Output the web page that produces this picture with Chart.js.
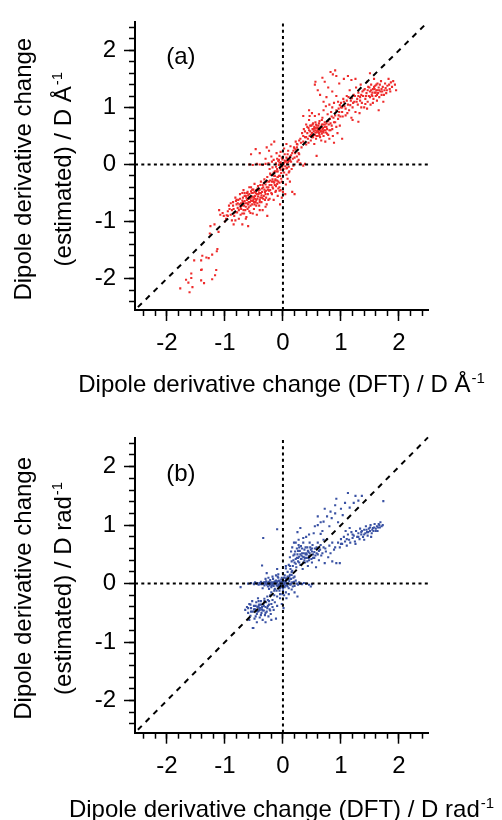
<!DOCTYPE html>
<html>
<head>
<meta charset="utf-8">
<script src="https://cdn.jsdelivr.net/npm/chart.js@4/dist/chart.umd.min.js"></script>
<style>
html,body{margin:0;padding:0;background:#fff;}
canvas{position:absolute;left:0;display:block;}
</style>
</head>
<body>
<canvas id="ca" width="502" height="410" style="top:0"></canvas>
<canvas id="cb" width="502" height="410" style="top:410px"></canvas>
<script>
// ---------- axis values ----------
const X_RANGE = [-2.55, 2.5];
const Y_RANGE = [-2.55, 2.49];
const majorTicks = [-2, -1, 0, 1, 2];
const minorTicks = [-2.4,-2.2,-2.0,-1.8,-1.6,-1.4,-1.2,-1.0,-0.8,-0.6,-0.4,-0.2,0,0.2,0.4,0.6,0.8,1.0,1.2,1.4,1.6,1.8,2.0,2.2,2.4];
const diagonal = [-2.5, 2.5];
const zeroSpanX = [-2.55, 2.5];
const zeroSpanY = [-2.55, 2.49];

// ---------- panel (a): points [DFT, estimated] ----------
const aLowTail = [[-1.25,-1.08],[-1.18,-1.05],[-1.13,-1.48],[-1.14,-1.52],[-1.22,-1.58],[-1.39,-1.6],[-1.32,-1.63],[-1.53,-1.68],[-1.41,-1.68],[-1.15,-1.85],[-1.22,-2.01],[-1.17,-1.94],[-1.41,-1.85],[-1.58,-1.91],[-1.41,-2.03],[-1.36,-2.08],[-1.67,-2.02],[-1.63,-2.07],[-1.58,-1.99],[-1.56,-2.15],[-1.77,-2.17],[-1.61,-2.24],[-1.4,-1.84],[-1.28,-1.64],[-1.11,-1.18],[-1.26,-1.21]];
const aLowCluster = [[-1.08,-0.88],[-1.02,-0.9],[-0.98,-0.95],[-0.95,-0.82],[-0.93,-0.72],[-0.9,-0.88],[-0.88,-0.98],[-0.86,-0.66],[-0.85,-0.78],[-0.84,-0.9],[-0.82,-0.58],[-0.8,-0.7],[-0.79,-0.84],[-0.77,-0.62],[-0.76,-0.95],[-0.74,-0.52],[-0.73,-0.76],[-0.72,-0.68],[-0.7,-0.86],[-0.69,-0.58],[-0.68,-0.45],[-0.67,-0.72],[-0.66,-0.64],[-0.65,-0.8],[-0.64,-0.55],[-0.63,-0.92],[-0.62,-0.68],[-0.61,-0.48],[-0.6,-0.6],[-0.59,-0.75],[-0.58,-0.52],[-0.57,-0.66],[-0.56,-0.85],[-0.55,-0.4],[-0.54,-0.58],[-0.53,-0.7],[-0.52,-0.5],[-0.51,-0.62],[-0.5,-0.78],[-0.49,-0.34],[-0.48,-0.55],[-0.47,-0.66],[-0.46,-0.45],[-0.45,-0.88],[-0.44,-0.6],[-0.43,-0.38],[-0.42,-0.52],[-0.41,-0.72],[-0.4,-0.44],[-0.39,-0.58],[-0.38,-0.3],[-0.37,-0.66],[-0.36,-0.48],[-0.35,-0.8],[-0.34,-0.4],[-0.33,-0.55],[-0.32,-0.26],[-0.31,-0.62],[-0.3,-0.35],[-0.29,-0.46],[-0.28,-0.7],[-0.27,-0.22],[-0.26,-0.52],[-0.25,-0.4],[-0.24,-0.3],[-0.23,-0.6],[-0.22,-0.45],[-0.21,-0.18],[-0.2,-0.36],[-0.19,-0.52],[-0.18,-0.26],[-0.17,-0.42],[-0.16,-0.62],[-0.15,-0.32],[-0.14,-0.2],[-0.13,-0.48],[-0.12,-0.38],[-0.11,-0.12],[-0.1,-0.28],[-0.09,-0.55],[-0.08,-0.42],[-0.07,-0.2],[-0.06,-0.32],[-0.05,-0.7],[-0.04,-0.45],[-0.03,-0.25],[-0.02,-0.58],[-0.62,-0.62],[-0.58,-0.57],[-0.55,-0.63],[-0.52,-0.56],[-0.48,-0.6],[-0.45,-0.52],[-0.66,-0.55],[-0.7,-0.63],[-0.6,-0.7],[-0.5,-0.66],[-0.42,-0.46],[-0.38,-0.5],[-0.35,-0.36],[-0.32,-0.44],[-0.28,-0.4],[-0.55,-0.47],[-0.64,-0.74],[-0.72,-0.78],[-0.78,-0.76],[-0.46,-0.72],[-0.85,-1.05],[-0.7,-1.05],[-0.6,-1.08],[-0.27,-0.9],[-1.1,-0.8],[-1.0,-1.0],[-0.97,-0.89],[-0.58,-0.82],[-0.44,-0.68],[-0.36,-0.58],[-0.53,-0.44],[-0.62,-0.5],[-0.75,-0.7],[-0.81,-0.64],[-0.67,-0.86],[-0.49,-0.48],[-0.4,-0.62],[-0.3,-0.52],[-0.24,-0.46],[-0.19,-0.3],[-0.14,-0.36],[-0.09,-0.22],
  [-0.88,-0.8],[-0.86,-0.72],[-0.83,-0.84],[-0.8,-0.62],[-0.78,-0.68],[-0.76,-0.8],[-0.74,-0.6],[-0.73,-0.88],[-0.71,-0.72],[-0.69,-0.66],[-0.68,-0.8],[-0.66,-0.5],[-0.65,-0.68],[-0.63,-0.58],[-0.61,-0.78],[-0.6,-0.54],[-0.59,-0.66],[-0.57,-0.6],[-0.56,-0.72],[-0.54,-0.5],[-0.53,-0.64],[-0.51,-0.44],[-0.5,-0.58],[-0.49,-0.7],[-0.47,-0.5],[-0.46,-0.62],[-0.44,-0.42],[-0.43,-0.56],[-0.41,-0.5],[-0.4,-0.66],[-0.39,-0.36],[-0.37,-0.54],[-0.36,-0.42],[-0.34,-0.6],[-0.33,-0.32],[-0.31,-0.48],[-0.29,-0.58],[-0.28,-0.3],[-0.26,-0.44],[-0.25,-0.62],[-0.23,-0.36],[-0.22,-0.28],[-0.2,-0.5],[-0.18,-0.4],[-0.16,-0.3],[-0.13,-0.26],[-0.12,-0.46],[-0.1,-0.34],[-0.08,-0.3],[-0.06,-0.46],[-0.92,-0.78],[-0.95,-0.9],[-1.04,-0.85],[-0.9,-0.68],[-0.82,-0.98],[-0.64,-0.95],[-0.52,-0.86],[-0.4,-0.8],[-0.3,-0.74],[-0.58,-0.4],[-0.7,-0.5]];
const aCenter = [[0,0],[0.02,0.03],[-0.02,-0.02],[0.04,-0.03],[-0.04,0.04],[0.05,0.06],[-0.05,-0.06],[0.01,-0.08],[-0.01,0.09],[0.07,0.02],[-0.07,-0.01],[0.08,0.1],[-0.08,0.06],[0.1,-0.04],[-0.1,-0.08],[0.12,0.14],[-0.12,0.02],[0.03,0.18],[-0.03,-0.15],[0.14,0.05],[-0.14,-0.12],[0.06,-0.18],[-0.06,0.15],[0.16,0.2],[-0.16,0.08],[0.18,-0.02],[-0.18,-0.05],[0.09,0.24],[-0.09,-0.22],[0.2,0.12],[-0.2,0.14],[0.22,0.26],[-0.22,-0.16],[0.11,-0.12],[-0.11,0.2],[0.25,0.05],[-0.25,0.02],[0.02,0.28],[-0.02,-0.3],[0.13,0.32],[-0.13,-0.28],[0.28,0.18],[0.05,-0.35],[0.0,-0.48],[0.04,-0.52],[-0.06,-0.4],[0.16,-0.48],[0.2,-0.52],[0.12,-0.3],[0.3,0.02],[0.35,-0.02],[0.38,0.01],[-0.3,0.01],[-0.35,-0.01],[-0.4,0.0],[-0.45,0.01],[-0.52,-0.01],[-0.58,0.0],[-0.28,0.3],[-0.2,0.35],[-0.15,0.4],[0.06,0.36],[0.08,-0.25],[-0.04,0.22],[0.15,-0.08],[-0.15,-0.2],[0.24,0.36],[0.19,0.3],[0.27,0.08],[-0.24,0.24],[-0.47,0.27],[-0.55,0.18],[-0.4,0.2],[-0.3,0.1],[0.03,0.07],[-0.03,0.01],[0.06,-0.07],[-0.06,0.03],[0.1,0.06],[-0.1,0.1],
  [0.01,0.01],[-0.01,-0.04],[0.04,0.05],[-0.04,-0.09],[0.07,-0.06],[-0.07,0.08],[0.09,0.04],[-0.09,-0.12],[0.12,0.08],[-0.12,-0.04],[0.14,0.16],[-0.16,-0.14],[0.02,-0.14],[-0.02,0.12],[0.17,0.1],[0.21,0.2],[0.18,0.24],[0.06,0.12],[-0.05,-0.2],[0.1,-0.14],[0.24,0.14],[-0.19,0.05],[-0.23,-0.08],[0.08,0.18]];
const aMidCluster = [[0.2,0.28],[0.22,0.4],[0.25,0.35],[0.27,0.2],[0.3,0.45],[0.32,0.3],[0.33,0.55],[0.35,0.4],[0.36,0.62],[0.38,0.48],[0.4,0.35],[0.4,0.7],[0.42,0.55],[0.43,0.45],[0.44,0.64],[0.45,0.78],[0.46,0.5],[0.47,0.58],[0.48,0.42],[0.49,0.68],[0.5,0.55],[0.51,0.62],[0.52,0.48],[0.52,0.72],[0.53,0.58],[0.54,0.66],[0.55,0.52],[0.56,0.6],[0.57,0.7],[0.57,0.45],[0.58,0.56],[0.59,0.64],[0.6,0.5],[0.6,0.6],[0.61,0.68],[0.62,0.55],[0.63,0.62],[0.63,0.76],[0.64,0.48],[0.65,0.58],[0.66,0.66],[0.67,0.54],[0.68,0.62],[0.68,0.82],[0.69,0.7],[0.7,0.5],[0.71,0.6],[0.72,0.66],[0.73,0.4],[0.74,0.56],[0.75,0.72],[0.76,0.62],[0.77,0.88],[0.78,0.52],[0.79,0.7],[0.8,0.45],[0.81,0.8],[0.82,0.6],[0.83,0.92],[0.84,0.68],[0.86,0.5],[0.87,0.82],[0.88,0.38],[0.9,0.74],[0.92,0.95],[0.94,0.55],[0.96,0.86],[0.98,0.68],[1.0,1.0],[1.02,0.45],[0.58,0.15],[0.62,0.88],[0.55,0.85],[0.5,0.9],[0.46,0.85],[0.7,0.95],[0.74,1.02],[0.8,1.05],[0.85,1.0],[0.66,0.42],[0.54,0.36],[0.95,1.1],[0.88,1.08],[0.92,1.2],[0.6,0.64],[0.64,0.6],[0.56,0.56],[0.67,0.7],[0.53,0.62],[0.61,0.57],[0.58,0.68],[0.69,0.58],[0.48,0.52],[0.72,0.74],
  [0.45,0.6],[0.47,0.68],[0.5,0.48],[0.51,0.7],[0.53,0.52],[0.55,0.64],[0.56,0.74],[0.58,0.5],[0.59,0.58],[0.61,0.62],[0.62,0.72],[0.63,0.52],[0.65,0.66],[0.66,0.58],[0.67,0.78],[0.69,0.64],[0.7,0.56],[0.72,0.7],[0.73,0.6],[0.75,0.66],[0.76,0.54],[0.78,0.76],[0.8,0.6],[0.82,0.72],[0.84,0.84],[0.85,0.62],[0.88,0.74],[0.9,0.86],[0.92,0.66],[0.95,0.8],[0.97,0.92],[0.99,0.84],[0.38,0.58],[0.42,0.66],[0.35,0.5],[0.31,0.38],[0.28,0.42],[0.24,0.3],[0.4,0.48],[0.44,0.38]];
const aHighCluster = [[1.0,1.08],[1.02,0.92],[1.04,1.15],[1.06,1.02],[1.08,0.86],[1.1,1.2],[1.12,1.05],[1.14,0.95],[1.15,1.3],[1.17,1.12],[1.18,0.82],[1.2,1.0],[1.22,1.22],[1.23,1.1],[1.25,0.92],[1.26,1.35],[1.28,1.15],[1.29,1.05],[1.3,1.26],[1.32,0.9],[1.33,1.18],[1.34,1.4],[1.36,1.08],[1.37,1.28],[1.38,1.2],[1.4,1.0],[1.41,1.32],[1.42,1.15],[1.44,1.25],[1.45,1.45],[1.46,1.1],[1.47,1.36],[1.48,1.2],[1.5,1.28],[1.51,1.05],[1.52,1.4],[1.53,1.22],[1.55,1.32],[1.56,1.15],[1.57,1.5],[1.58,1.26],[1.59,1.38],[1.6,1.2],[1.61,1.3],[1.62,1.12],[1.63,1.42],[1.64,1.25],[1.65,1.35],[1.66,1.18],[1.68,1.28],[1.69,1.46],[1.7,1.22],[1.72,1.36],[1.73,1.1],[1.75,1.3],[1.76,1.42],[1.78,1.25],[1.8,1.38],[1.82,1.5],[1.84,1.32],[1.86,1.44],[1.88,1.36],[1.9,1.46],[1.93,1.4],[1.95,1.3],[1.65,0.95],[1.3,0.75],[1.2,0.78],[1.45,0.98],[1.55,1.08],[1.58,1.32],[1.62,1.22],[1.54,1.26],[1.66,1.3],[1.5,1.18],[1.7,1.32],
  [1.02,1.0],[1.05,1.1],[1.08,0.98],[1.1,1.12],[1.13,1.18],[1.16,1.04],[1.19,1.16],[1.21,1.08],[1.24,1.2],[1.27,1.1],[1.3,1.2],[1.33,1.12],[1.35,1.22],[1.39,1.3],[1.43,1.2],[1.46,1.3],[1.49,1.35],[1.52,1.3],[1.54,1.2],[1.57,1.36],[1.6,1.26],[1.61,1.4],[1.63,1.3],[1.67,1.4],[1.71,1.28],[1.74,1.22],[1.77,1.34],[1.79,1.3],[1.83,1.4],[1.85,1.28],[0.96,0.98],[0.98,1.04],[1.03,0.84],[1.11,0.9],[1.35,1.0],[1.42,1.06]];
const aUpperScatter = [[0.55,1.4],[0.56,1.45],[0.6,1.3],[0.64,1.22],[0.68,1.52],[0.72,1.45],[0.78,1.35],[0.82,1.62],[0.86,1.58],[0.9,1.65],[0.92,1.55],[0.85,1.28],[0.97,1.42],[1.05,1.5],[1.12,1.55],[1.18,1.48],[0.75,1.18],[0.7,1.1],[1.5,1.6],[1.25,1.5],[0.45,0.95],[0.35,0.85]];

// ---------- panel (b): points [DFT, estimated] ----------
const bCenter = [[-0.6,0.0],[-0.55,0.01],[-0.5,-0.01],[-0.48,0.02],[-0.45,0.0],[-0.42,-0.02],[-0.4,0.01],[-0.38,0.03],[-0.36,-0.01],[-0.35,0.0],[-0.33,0.02],[-0.32,-0.03],[-0.3,0.0],[-0.29,0.04],[-0.28,-0.02],[-0.27,0.01],[-0.26,-0.05],[-0.25,0.03],[-0.24,0.0],[-0.23,-0.03],[-0.22,0.06],[-0.21,0.01],[-0.2,-0.06],[-0.19,0.02],[-0.18,-0.01],[-0.17,0.08],[-0.16,-0.04],[-0.15,0.03],[-0.14,-0.09],[-0.13,0.0],[-0.12,0.05],[-0.11,-0.12],[-0.1,0.02],[-0.09,-0.05],[-0.08,0.1],[-0.07,-0.02],[-0.06,0.04],[-0.05,-0.08],[-0.04,0.0],[-0.03,0.07],[-0.02,-0.03],[-0.01,0.02],[0.0,-0.12],[0.0,0.05],[0.01,-0.01],[0.02,0.1],[0.03,-0.06],[0.04,0.02],[0.05,-0.15],[0.06,0.06],[0.07,-0.03],[0.08,0.12],[0.09,0.0],[0.1,-0.08],[0.11,0.04],[0.12,0.15],[0.13,-0.02],[0.14,0.08],[0.15,-0.1],[0.16,0.02],[0.18,0.1],[0.2,-0.04],[0.22,0.05],[0.24,0.0],[0.26,-0.02],[0.28,0.02],[0.3,0.0],[0.33,-0.01],[0.36,0.01],[0.4,0.0],[0.45,-0.02],[0.5,-0.01],[-0.2,-0.15],[-0.15,-0.2],[-0.1,-0.22],[-0.05,-0.25],[0.02,-0.2],[-0.25,0.1],[-0.3,0.08],[-0.35,-0.08],[0.06,-0.25],[0.1,-0.18],[0.2,-0.15],[0.25,-0.22],[-0.08,0.16],[-0.12,0.14],[0.0,0.18],[-0.18,0.12],[-0.02,-0.35],[0.01,-0.42],[-0.05,-0.18],[-0.09,0.04],[-0.04,-0.04],[0.03,0.03],[-0.14,0.02],[-0.22,-0.01],[0.07,0.08],[-0.36,0.31],[-0.1,0.25],[0.05,0.26],[-0.28,0.18],[0.15,0.2],[-0.16,0.0],[-0.06,-0.01],[0.02,0.0],[-0.11,0.01],[-0.01,-0.06],[0.05,0.02],[-0.03,0.03],[-0.08,-0.03],
  [-0.5,0.0],[-0.44,0.01],[-0.39,-0.01],[-0.34,0.01],[-0.31,0.02],[-0.26,0.0],[-0.23,0.02],[-0.19,-0.03],[-0.17,0.01],[-0.13,0.04],[-0.11,-0.03],[-0.07,0.05],[-0.05,0.01],[-0.03,-0.05],[0.0,0.0],[0.02,0.04],[0.04,-0.03],[0.06,0.01],[0.08,-0.05],[0.1,0.07],[0.12,-0.01],[0.14,0.0],[0.17,-0.05],[0.19,0.03],[-0.02,0.1],[0.03,0.14],[-0.06,-0.12],[-0.09,0.12],[0.05,0.09],[-0.15,-0.12],[0.0,-0.08],[-0.24,-0.09],[0.11,0.12],[-0.01,-0.18]];
const bLowCluster = [[-0.65,-0.45],[-0.62,-0.4],[-0.6,-0.5],[-0.58,-0.35],[-0.56,-0.55],[-0.55,-0.42],[-0.53,-0.3],[-0.52,-0.48],[-0.5,-0.38],[-0.49,-0.6],[-0.48,-0.44],[-0.46,-0.32],[-0.45,-0.52],[-0.44,-0.4],[-0.43,-0.25],[-0.42,-0.47],[-0.41,-0.36],[-0.4,-0.58],[-0.39,-0.42],[-0.38,-0.3],[-0.37,-0.5],[-0.36,-0.4],[-0.35,-0.62],[-0.34,-0.35],[-0.33,-0.46],[-0.32,-0.26],[-0.31,-0.54],[-0.3,-0.4],[-0.29,-0.32],[-0.28,-0.48],[-0.27,-0.22],[-0.26,-0.38],[-0.25,-0.56],[-0.24,-0.3],[-0.23,-0.44],[-0.22,-0.2],[-0.21,-0.52],[-0.2,-0.35],[-0.18,-0.28],[-0.16,-0.45],[-0.14,-0.32],[-0.12,-0.6],[-0.1,-0.38],[-0.52,-0.76],[-0.58,-0.62],[-0.45,-0.66],[-0.3,-0.66],[-0.2,-0.62],[-0.4,-0.45],[-0.36,-0.44],[-0.42,-0.38],
  [-0.6,-0.42],[-0.55,-0.48],[-0.5,-0.44],[-0.47,-0.38],[-0.44,-0.48],[-0.41,-0.42],[-0.38,-0.36],[-0.35,-0.46],[-0.33,-0.38],[-0.3,-0.5],[-0.27,-0.42],[-0.24,-0.36],[-0.22,-0.46],[-0.18,-0.4],[-0.47,-0.56],[-0.38,-0.54],[-0.32,-0.3],[-0.56,-0.36],[-0.42,-0.3],[-0.26,-0.28]];
const bMidCluster = [[0.08,0.2],[0.1,0.32],[0.12,0.45],[0.13,0.25],[0.14,0.55],[0.15,0.38],[0.16,0.62],[0.17,0.3],[0.18,0.48],[0.19,0.7],[0.2,0.36],[0.21,0.55],[0.22,0.42],[0.23,0.28],[0.24,0.6],[0.25,0.5],[0.26,0.38],[0.27,0.75],[0.28,0.46],[0.29,0.56],[0.3,0.32],[0.31,0.64],[0.32,0.42],[0.33,0.52],[0.34,0.25],[0.35,0.7],[0.36,0.45],[0.37,0.58],[0.38,0.36],[0.39,0.5],[0.4,0.8],[0.41,0.44],[0.42,0.62],[0.43,0.3],[0.44,0.54],[0.45,0.4],[0.46,0.7],[0.47,0.48],[0.48,0.58],[0.5,0.36],[0.51,0.66],[0.52,0.5],[0.53,0.86],[0.54,0.44],[0.55,0.6],[0.57,0.28],[0.58,0.52],[0.6,0.7],[0.62,0.4],[0.64,0.58],[0.66,0.48],[0.68,0.9],[0.7,0.62],[0.72,0.35],[0.74,0.55],[0.76,0.76],[0.78,0.45],[0.8,0.65],[0.82,0.52],[0.85,0.38],[0.88,0.58],[0.92,0.35],[0.98,0.35],[0.15,0.15],[0.2,0.12],[0.05,0.3],[0.25,0.88],[0.3,0.95],[0.6,1.0],[0.65,0.85],[0.22,0.7],[0.35,0.36],[0.28,0.62],[0.4,0.52],[0.45,0.47],[0.32,0.48],[0.38,0.44],[0.5,0.55],[0.26,0.44],[0.42,0.38],
  [0.18,0.4],[0.2,0.5],[0.22,0.34],[0.24,0.44],[0.26,0.56],[0.28,0.36],[0.3,0.5],[0.31,0.42],[0.33,0.6],[0.34,0.46],[0.36,0.52],[0.37,0.4],[0.39,0.62],[0.41,0.5],[0.43,0.56],[0.44,0.44],[0.46,0.52],[0.47,0.62],[0.49,0.42],[0.5,0.6],[0.52,0.44],[0.54,0.54],[0.56,0.48],[0.58,0.62],[0.6,0.5],[0.62,0.56],[0.65,0.66],[0.68,0.52],[0.7,0.75],[0.73,0.6],[0.12,0.3],[0.16,0.22],[0.27,0.66],[0.35,0.78],[0.45,0.84]];
const bBand = [[0.95,0.7],[0.98,0.62],[1.0,0.76],[1.02,0.68],[1.05,0.8],[1.07,0.72],[1.1,0.65],[1.12,0.84],[1.14,0.75],[1.16,0.7],[1.18,0.88],[1.2,0.78],[1.22,0.82],[1.24,0.72],[1.26,0.9],[1.28,0.8],[1.3,0.86],[1.32,0.76],[1.33,0.94],[1.35,0.84],[1.36,0.9],[1.38,0.8],[1.4,0.92],[1.42,0.86],[1.43,0.98],[1.45,0.88],[1.46,0.82],[1.48,0.94],[1.5,0.9],[1.51,1.0],[1.53,0.86],[1.55,0.95],[1.56,0.9],[1.58,1.02],[1.6,0.94],[1.62,0.98],[1.63,0.9],[1.65,1.02],[1.67,0.96],[1.68,1.05],[1.7,0.98],[1.72,1.0],[1.25,0.68],[1.15,0.95],[1.4,0.75],[1.52,0.8],[1.08,0.9],[0.9,0.62],[0.85,0.7],
  [1.3,0.8],[1.35,0.88],[1.4,0.84],[1.44,0.92],[1.47,0.88],[1.5,0.96],[1.54,0.92],[1.57,0.96],[1.6,0.9],[1.64,0.96],[1.66,1.0],[1.2,0.84],[1.1,0.76],[1.0,0.68]];
const bUpperScatter = [[0.92,1.45],[1.12,1.55],[1.22,1.38],[1.36,1.5],[1.25,1.5],[1.73,1.41],[1.07,1.38],[0.9,1.34],[0.82,1.23],[0.76,1.15],[0.9,1.2],[0.7,1.06],[0.84,1.12],[1.03,1.17],[0.65,1.05],[0.55,0.98],[0.6,1.15],[0.72,1.28],[1.0,1.28],[1.15,1.3],[1.3,1.42],[0.8,0.98],[0.95,1.05]];
const bOutliers = [[-0.34,0.78],[-0.1,0.93],[-0.73,-0.06],[0.48,-0.05],[-0.51,-0.76]];

// ---------- texts ----------
const FONT = '"Liberation Sans", Arial, Helvetica, sans-serif';
const panelA = {
  label: '(a)', color: '#ee2b2b',
  points: [].concat(aLowTail, aLowCluster, aCenter, aMidCluster, aHighCluster, aUpperScatter),
  xTitle: 'Dipole derivative change (DFT) / D Å', yTitle1: 'Dipole derivative change', yTitle2: '(estimated) / D Å', sup: '-1',
  padTop: 15, xAxisH: 100, xTitleBase: 82
};
const panelB = {
  label: '(b)', color: '#3a52a3',
  points: [].concat(bCenter, bLowCluster, bMidCluster, bBand, bUpperScatter, bOutliers),
  xTitle: 'Dipole derivative change (DFT) / D rad', yTitle1: 'Dipole derivative change', yTitle2: '(estimated) / D rad', sup: '-1',
  padTop: 28, xAxisH: 87.3, xTitleBase: 84
};

function drawSup(ctx, main, sup, x, y, rot) {
  ctx.save();
  ctx.translate(x, y);
  ctx.rotate(rot);
  ctx.textAlign = 'left';
  ctx.textBaseline = 'alphabetic';
  ctx.font = '24px ' + FONT;
  const w1 = ctx.measureText(main).width;
  ctx.font = '15px ' + FONT;
  const w2 = sup ? ctx.measureText(sup).width + 1 : 0;
  const start = -(w1 + w2) / 2;
  ctx.font = '24px ' + FONT;
  ctx.fillText(main, start, 0);
  if (sup) { ctx.font = '15px ' + FONT; ctx.fillText(sup, start + w1 + 1, -9); }
  ctx.restore();
}

const textPlugin = {
  id: 'panelText',
  afterDraw(chart, args, opts) {
    const {ctx, chartArea, scales} = chart;
    const p = opts.panel;
    ctx.save();
    ctx.fillStyle = '#000';
    ctx.font = '24px ' + FONT;
    ctx.textAlign = 'center';
    ctx.textBaseline = 'middle';
    ctx.fillText(p.label, scales.x.getPixelForValue(-1.76), scales.y.getPixelForValue(1.87));
    const cx = (chartArea.left + chartArea.right) / 2;
    const cy = (chartArea.top + chartArea.bottom) / 2 + 3;
    drawSup(ctx, p.xTitle, p.sup, cx, chartArea.bottom + p.xTitleBase, 0);
    drawSup(ctx, p.yTitle1, '', 30.8, cy, -Math.PI / 2);
    drawSup(ctx, p.yTitle2, p.sup, 70.8, cy, -Math.PI / 2);
    ctx.restore();
  }
};

function setTicks(list) { return s => { s.ticks = list.map(v => ({value: v})); }; }

function makeChart(id, p) {
  const lineBase = {showLine: true, pointRadius: 0, borderColor: '#000', fill: false, clip: false, order: 0, xAxisID: 'x', yAxisID: 'y'};
  return new Chart(document.getElementById(id), {
    type: 'scatter',
    data: {
      datasets: [
        Object.assign({}, lineBase, {data: diagonal.map(v => ({x: v, y: v})), borderWidth: 2, borderDash: [5.5, 5.5]}),
        Object.assign({}, lineBase, {data: zeroSpanX.map(v => ({x: v, y: 0})), borderWidth: 2, borderDash: [3, 3.3]}),
        Object.assign({}, lineBase, {data: zeroSpanY.map(v => ({x: 0, y: v})), borderWidth: 2, borderDash: [3, 3.3]}),
        {data: p.points.map(([x, y]) => ({x, y})), pointStyle: 'rect', pointRadius: 1.5, borderWidth: 0,
         backgroundColor: p.color, order: 1, xAxisID: 'x', yAxisID: 'y'}
      ]
    },
    options: {
      responsive: false, animation: false, devicePixelRatio: 1, events: [],
      layout: {padding: {top: p.padTop, right: 74, bottom: 0, left: 0}},
      plugins: {legend: {display: false}, tooltip: {enabled: false}, panelText: {panel: p}},
      scales: {
        x: {type: 'linear', axis: 'x', position: 'bottom', weight: 1, min: X_RANGE[0], max: X_RANGE[1],
            border: {display: true, color: '#000', width: 2},
            grid: {drawOnChartArea: false, drawTicks: true, tickLength: 11, tickWidth: 1.5, tickColor: '#000'},
            ticks: {color: '#000', font: {family: FONT, size: 24}, padding: 8, maxRotation: 0, autoSkip: false, callback: v => String(v)},
            afterBuildTicks: setTicks(majorTicks), afterFit: s => { s.height = p.xAxisH; }},
        xMinor: {type: 'linear', axis: 'x', position: 'bottom', weight: 0, min: X_RANGE[0], max: X_RANGE[1],
            border: {display: false},
            grid: {drawOnChartArea: false, drawTicks: true, tickLength: 6, tickWidth: 1.5, tickColor: '#000'},
            ticks: {display: false}, afterBuildTicks: setTicks(minorTicks), afterFit: s => { s.height = 0; }},
        y: {type: 'linear', axis: 'y', position: 'left', weight: 1, min: Y_RANGE[0], max: Y_RANGE[1],
            border: {display: true, color: '#000', width: 2},
            grid: {drawOnChartArea: false, drawTicks: true, tickLength: 11, tickWidth: 1.5, tickColor: '#000'},
            ticks: {color: '#000', font: {family: FONT, size: 24}, padding: 8, autoSkip: false, callback: v => String(v)},
            afterBuildTicks: setTicks(majorTicks), afterFit: s => { s.width = 135; }},
        yMinor: {type: 'linear', axis: 'y', position: 'left', weight: 0, min: Y_RANGE[0], max: Y_RANGE[1],
            border: {display: false},
            grid: {drawOnChartArea: false, drawTicks: true, tickLength: 6, tickWidth: 1.5, tickColor: '#000'},
            ticks: {display: false}, afterBuildTicks: setTicks(minorTicks), afterFit: s => { s.width = 0; }}
      }
    },
    plugins: [textPlugin]
  });
}

makeChart('ca', panelA);
makeChart('cb', panelB);
</script>
</body>
</html>
